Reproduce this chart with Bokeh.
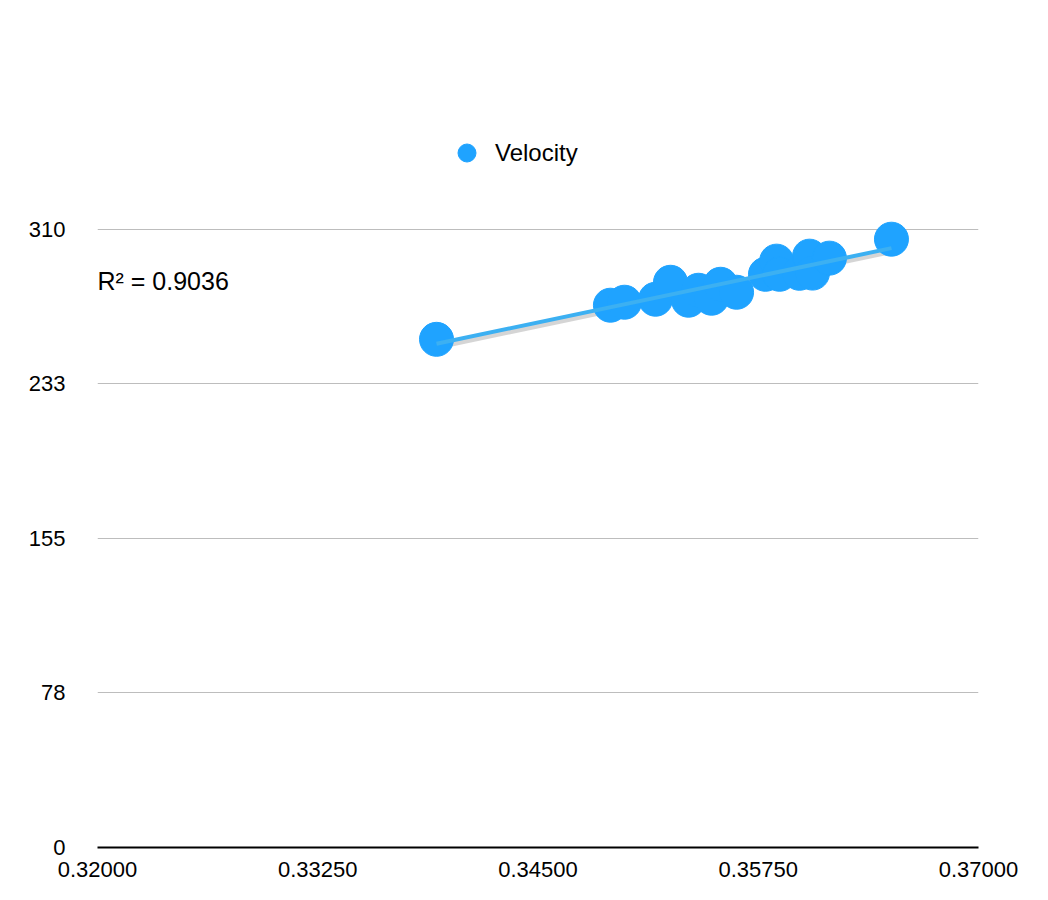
import numpy as np
from bokeh.plotting import figure
from bokeh.models import FixedTicker, Legend, LegendItem, Label, ColumnDataSource
from bokeh.embed import file_html
from bokeh.resources import INLINE

# data
series_name = "Velocity"
x_vals = [0.33924, 0.34911, 0.34991, 0.35167, 0.35252, 0.35354, 0.35411, 0.35485,
          0.35536, 0.35627, 0.35791, 0.35854, 0.35871, 0.35984, 0.36041, 0.36058,
          0.36154, 0.36506]
y_vals = [254.8, 271.9, 273.4, 274.9, 283.4, 274.4, 279.4, 275.4,
          282.4, 278.4, 287.4, 294.0, 287.4, 287.9, 296.5, 288.0,
          295.5, 305.0]
r2_text = "R² = 0.9036"
x_ticks = [0.32, 0.3325, 0.345, 0.3575, 0.37]
x_tick_labels = ["0.32000", "0.33250", "0.34500", "0.35750", "0.37000"]
y_ticks = [0, 77.5, 155, 232.5, 310]
y_tick_labels = ["0", "78", "155", "233", "310"]

FONT = "Liberation Sans"
BLUE = "#1fa3ff"
LINE_BLUE = "#3cb0f2"

FRAME_W = 881
FRAME_H = 718
p = figure(width=1040, height=892, x_range=(0.32, 0.37), y_range=(0, 360),
           output_backend="svg", toolbar_location=None,
           min_border_left=97, min_border_right=1040 - 97 - FRAME_W,
           min_border_top=892 - 45 - FRAME_H, min_border_bottom=45)
p.outline_line_color = None
p.background_fill_color = "white"

# axes
p.xaxis.ticker = FixedTicker(ticks=x_ticks)
p.xaxis.major_label_overrides = {t: l for t, l in zip(x_ticks, x_tick_labels)}
p.yaxis.ticker = FixedTicker(ticks=y_ticks)
p.yaxis.major_label_overrides = {t: l for t, l in zip(y_ticks, y_tick_labels)}
for ax in (p.xaxis, p.yaxis):
    ax.major_tick_line_color = None
    ax.minor_tick_line_color = None
    ax.major_label_text_font = FONT
    ax.major_label_text_font_size = "22px"
    ax.major_label_text_color = "black"
p.yaxis.axis_line_color = None
p.yaxis.major_label_standoff = 26
p.xaxis.axis_line_color = "black"
p.xaxis.axis_line_width = 2
p.xaxis.major_label_standoff = 8

p.xgrid.grid_line_color = None
p.ygrid.grid_line_color = "#bdbdbd"
p.ygrid.grid_line_width = 1

# trend line
coef = np.polyfit(x_vals, y_vals, 1)
xl = np.array([min(x_vals), max(x_vals)])
yl = np.polyval(coef, xl)
px_per_unit_y = FRAME_H / 360
px_per_unit_x = FRAME_W / 0.05
p.line(xl + 2 / px_per_unit_x, yl - 3 / px_per_unit_y, line_color="#888888", line_alpha=0.35, line_width=5)

src = ColumnDataSource(dict(x=x_vals, y=y_vals))
pts = p.scatter("x", "y", source=src, size=34, fill_color=BLUE, line_color=BLUE)
p.line(xl, yl, line_color=LINE_BLUE, line_width=4)

legend = Legend(items=[LegendItem(label=series_name, renderers=[pts])],
                location=(347, 672), orientation="horizontal",
                glyph_width=45, glyph_height=45, label_standoff=6,
                padding=0, margin=0, border_line_color=None, background_fill_alpha=0,
                label_text_font=FONT, label_text_font_size="24px", label_text_color="black")
p.add_layout(legend, "center")

p.add_layout(Label(x=0.32, y=284, text=r2_text, text_font=FONT, text_font_size="25px",
                   text_baseline="middle", text_align="left", text_color="black"))

open("out.html", "w").write(file_html(p, INLINE))
